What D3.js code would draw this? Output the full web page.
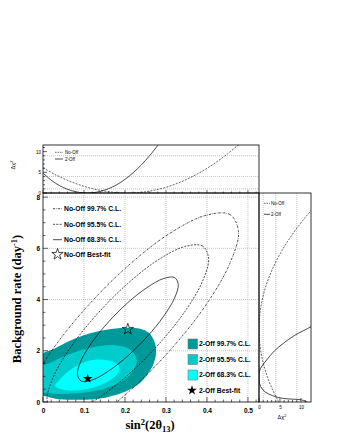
<!DOCTYPE html>
<html><head><meta charset="utf-8">
<script src="https://cdn.jsdelivr.net/npm/d3@7"></script>
<style>body{margin:0;background:#fff}svg{display:block}text{font-family:"Liberation Sans",Arial,sans-serif}text.serif{font-family:"Liberation Serif","Times New Roman",serif}</style>
</head><body><svg id="c" width="340" height="440"></svg>
<script>
// ---------- data ----------
const xTicks=[0,0.1,0.2,0.3,0.4,0.5];
const xTickLabels=["0","0.1","0.2","0.3","0.4","0.5"];
const yTicks=[0,2,4,6,8];
const chiTicks=[0,5,10];
const chiGrid=[1,4,9];
const legendNoOff=["No-Off 99.7% C.L.","No-Off 95.5% C.L.","No-Off 68.3% C.L.","No-Off Best-fit"];
const legend2Off=["2-Off 99.7% C.L.","2-Off 95.5% C.L.","2-Off 68.3% C.L.","2-Off Best-fit"];
const fillColors=["#009999","#00cccc","#00ffff"];
const bestFit2Off=[0.109,0.91];
const bestFitNoOff=[0.207,2.84];
// 2-Off filled confidence regions [sin2, bkg]
const twoOff997=[[-0.02,1.68],[0.03,2.1],[0.074,2.45],[0.115,2.68],[0.155,2.82],[0.2,2.9],[0.237,2.86],[0.258,2.7],[0.272,2.35],[0.276,1.93],[0.27,1.5],[0.256,1.1],[0.235,0.72],[0.2,0.4],[0.16,0.2],[0.115,0.1],[0.07,0.09],[0.03,0.13],[0.005,0.22],[-0.02,0.32]];
const twoOff955=[[-0.02,1.35],[0.013,1.5],[0.04,1.7],[0.074,1.92],[0.105,2.08],[0.139,2.19],[0.175,2.22],[0.205,2.12],[0.222,1.9],[0.229,1.62],[0.222,1.28],[0.205,0.95],[0.18,0.7],[0.15,0.52],[0.115,0.4],[0.074,0.33],[0.035,0.32],[0.008,0.36],[-0.02,0.42]];
const twoOff683=[[0.03,0.62],[0.045,0.95],[0.075,1.35],[0.11,1.6],[0.14,1.66],[0.17,1.57],[0.186,1.38],[0.182,1.1],[0.16,0.82],[0.125,0.58],[0.085,0.46],[0.05,0.48]];
// No-Off contour lines [sin2, bkg]
const noOff683=[[0.330,4.59],[0.321,4.86],[0.294,4.82],[0.254,4.47],[0.207,3.88],[0.160,3.13],[0.120,2.34],[0.093,1.62],[0.084,1.09],[0.093,0.82],[0.120,0.86],[0.160,1.21],[0.207,1.80],[0.254,2.55],[0.294,3.34],[0.321,4.06]];
const noOff955=[[0.404,5.61],[0.389,6.09],[0.346,6.07],[0.282,5.56],[0.207,4.63],[0.132,3.43],[0.068,2.15],[0.025,0.97],[0.010,0.07],[0.025,-0.41],[0.068,-0.39],[0.132,0.12],[0.207,1.05],[0.282,2.25],[0.346,3.53],[0.389,4.71]];
const noOff997=[[0.477,6.66],[0.456,7.32],[0.398,7.29],[0.310,6.59],[0.207,5.31],[0.104,3.66],[0.016,1.88],[-0.042,0.26],[-0.063,-0.98],[-0.042,-1.64],[0.016,-1.61],[0.104,-0.91],[0.207,0.37],[0.310,2.02],[0.398,3.80],[0.456,5.42]];
// Top panel: delta chi2 vs sin2
const topS2Off=[0,0.02,0.04,0.06,0.08,0.1,0.12,0.14,0.16,0.18,0.2,0.22,0.24,0.26,0.28,0.29];
const topD2Off=[4.8,3.1,1.8,0.9,0.3,0.03,0.05,0.4,1.05,2.0,3.3,4.9,6.8,9.0,11.5,12.8];
const topSNoOff=[0,0.03,0.06,0.09,0.12,0.15,0.18,0.207,0.24,0.27,0.3,0.33,0.36,0.39,0.42,0.45,0.48];
const topDNoOff=[6.1,4.45,3.07,1.94,1.07,0.46,0.1,0,0.17,0.64,1.38,2.42,3.75,5.36,7.26,9.45,11.9];
// Right panel: delta chi2 vs background
const rightB2Off=[0,0.08,0.14,0.25,0.4,0.6,0.86,1.18,1.4,1.64,2.0,2.29,2.6,2.94,3.1];
const rightD2Off=[11.5,10.2,5.8,3.2,1.4,0.4,0,0.07,0.7,1.83,3.7,5.8,8.5,12.4,14];
const rightBNoOff=[0,0.5,1,1.5,2,2.5,2.84,3.2,3.7,4.2,4.7,5.2,5.7,6.2,6.7,7.2,7.6];
const rightDNoOff=[4.7,3.18,1.96,1.04,0.41,0.07,0,0.075,0.43,1.07,2.0,3.23,4.74,6.55,8.64,11.0,13.1];

// ---------- layout ----------
const svg=d3.select("#c");
const L=43,R=259,T=193,B=402,T2=145,R3=311;
const x=d3.scaleLinear().domain([0,0.527]).range([L,R]);
const y=d3.scaleLinear().domain([0,8.16]).range([B,T]);
const y2=d3.scaleLinear().domain([0,11.6]).range([T,T2]);
const x3=d3.scaleLinear().domain([0,12.4]).range([R,R3]);

const defs=svg.append("defs");
function clip(id,x0,y0,w,h){defs.append("clipPath").attr("id",id).append("rect").attr("x",x0).attr("y",y0).attr("width",w).attr("height",h);}
clip("cm",L,T,R-L,B-T);clip("ct",L,T2,R-L,T-T2);clip("cr",R,T,R3-R,B-T);

const gridStyle=s=>s.attr("stroke","#aaa").attr("stroke-width",0.7).attr("stroke-dasharray","1,1").attr("fill","none");
svg.append("g").selectAll("line").data(xTicks.slice(1)).join("line")
  .attr("x1",d=>x(d)).attr("x2",d=>x(d)).attr("y1",T).attr("y2",B).call(gridStyle);
svg.append("g").selectAll("line").data(yTicks.slice(1)).join("line")
  .attr("x1",L).attr("x2",R).attr("y1",d=>y(d)).attr("y2",d=>y(d)).call(gridStyle);
svg.append("g").selectAll("line").data(chiGrid).join("line")
  .attr("x1",L).attr("x2",R).attr("y1",d=>y2(d)).attr("y2",d=>y2(d)).call(gridStyle);
svg.append("g").selectAll("line").data(chiGrid).join("line")
  .attr("x1",d=>x3(d)).attr("x2",d=>x3(d)).attr("y1",T).attr("y2",B).call(gridStyle);

// fills
const area=d3.line().x(d=>x(d[0])).y(d=>y(d[1])).curve(d3.curveCatmullRomClosed.alpha(0.5));
const gm=svg.append("g").attr("clip-path","url(#cm)");
[twoOff997,twoOff955,twoOff683].forEach((p,i)=>gm.append("path").attr("d",area(p)).attr("fill",fillColors[i]).attr("stroke","none"));
const dashes=["2.2,1,0.6,1","2,1.3",null];
[noOff997,noOff955,noOff683].forEach((p,i)=>{
  const pa=gm.append("path").attr("d",area(p)).attr("fill","none").attr("stroke","#000").attr("stroke-width",0.7);
  if(dashes[i])pa.attr("stroke-dasharray",dashes[i]);
});
const star=d3.symbol().type(d3.symbolStar);
gm.append("path").attr("d",star.size(30)()).attr("transform",`translate(${x(bestFit2Off[0])},${y(bestFit2Off[1])})`).attr("fill","#000");
gm.append("path").attr("d",star.size(40)()).attr("transform",`translate(${x(bestFitNoOff[0])},${y(bestFitNoOff[1])})`).attr("fill","none").attr("stroke","#000").attr("stroke-width",0.7);

// top panel curves
const gt=svg.append("g").attr("clip-path","url(#ct)");
const lt=d3.line().x(d=>x(d[0])).y(d=>y2(d[1])).curve(d3.curveCatmullRom);
gt.append("path").attr("d",lt(topSNoOff.map((s,i)=>[s,topDNoOff[i]]))).attr("fill","none").attr("stroke","#000").attr("stroke-width",0.6).attr("stroke-dasharray","2,1.3");
gt.append("path").attr("d",lt(topS2Off.map((s,i)=>[s,topD2Off[i]]))).attr("fill","none").attr("stroke","#000").attr("stroke-width",0.7);
// right panel curves
const gr=svg.append("g").attr("clip-path","url(#cr)");
const lr=d3.line().x(d=>x3(d[1])).y(d=>y(d[0])).curve(d3.curveCatmullRom);
gr.append("path").attr("d",lr(rightBNoOff.map((b,i)=>[b,rightDNoOff[i]]))).attr("fill","none").attr("stroke","#000").attr("stroke-width",0.6).attr("stroke-dasharray","2,1.3");
gr.append("path").attr("d",lr(rightB2Off.map((b,i)=>[b,rightD2Off[i]]))).attr("fill","none").attr("stroke","#000").attr("stroke-width",0.7);

// frames
const frame=(x0,y0,x1,y1)=>svg.append("rect").attr("x",x0).attr("y",y0).attr("width",x1-x0).attr("height",y1-y0).attr("fill","none").attr("stroke","#000").attr("stroke-width",0.8);
frame(L,T2,R,T);frame(L,T,R,B);frame(R,T,R3,B);

// axes
const xa=svg.append("g").attr("transform",`translate(0,${B})`).call(d3.axisBottom(x).tickValues(xTicks).tickFormat((d,i)=>xTickLabels[i]).tickSize(0).tickPadding(6));
const ya=svg.append("g").attr("transform",`translate(${L},0)`).call(d3.axisLeft(y).tickValues(yTicks).tickFormat(d3.format("d")).tickSize(0).tickPadding(3));
const y2a=svg.append("g").attr("transform",`translate(${L},0)`).call(d3.axisLeft(y2).tickValues(chiTicks).tickFormat(d3.format("d")).tickSize(0).tickPadding(2));
const x3a=svg.append("g").attr("transform",`translate(0,${B})`).call(d3.axisBottom(x3).tickValues(chiTicks).tickFormat(d3.format("d")).tickSize(0).tickPadding(4));
[xa,ya,y2a,x3a].forEach(a=>{a.select(".domain").remove();a.attr("font-family",null);});
xa.selectAll("text").attr("font-size",6.5).attr("font-weight","bold").attr("fill","#000");
ya.selectAll("text").attr("font-size",6.5).attr("font-weight","bold").attr("fill","#000");
y2a.selectAll("text").attr("font-size",4.5).attr("fill","#000");
x3a.selectAll("text").attr("font-size",4.5).attr("fill","#000");
const tk=svg.append("g").attr("stroke","#000").attr("stroke-width",0.6);
d3.range(0,0.521,0.02).forEach(v=>{const big=Math.abs(v*10-Math.round(v*10))<1e-6;
  tk.append("line").attr("x1",x(v)).attr("x2",x(v)).attr("y1",B).attr("y2",B-(big?5:2.5));
  tk.append("line").attr("x1",x(v)).attr("x2",x(v)).attr("y1",T).attr("y2",T-(big?3:1.5));});
d3.range(0,8.01,0.5).forEach(v=>{const big=Math.abs(v/2-Math.round(v/2))<1e-6;
  tk.append("line").attr("x1",L).attr("x2",L+(big?5:2.5)).attr("y1",y(v)).attr("y2",y(v));});
d3.range(0,11.01,1).forEach(v=>{const big=v%5===0;
  tk.append("line").attr("x1",L).attr("x2",L+(big?4:2)).attr("y1",y2(v)).attr("y2",y2(v));
  tk.append("line").attr("x1",x3(v)).attr("x2",x3(v)).attr("y1",B).attr("y2",B-(big?4:2));});

// axis titles
const xt=svg.append("text").attr("class","serif").attr("x",150).attr("y",429).attr("text-anchor","middle").attr("font-weight","bold").attr("font-size",12.5);
xt.append("tspan").text("sin");xt.append("tspan").attr("dy",-4.5).attr("font-size",8.5).text("2");
xt.append("tspan").attr("dy",4.5).text("(2θ");xt.append("tspan").attr("dy",3).attr("font-size",8.5).text("13");
xt.append("tspan").attr("dy",-3).text(")");
const yt=svg.append("text").attr("class","serif").attr("transform","translate(21,299) rotate(-90)").attr("text-anchor","middle").attr("font-weight","bold").attr("font-size",12.5);
yt.append("tspan").text("Background rate (day");yt.append("tspan").attr("dy",-4.5).attr("font-size",8.5).text("-1");yt.append("tspan").attr("dy",4.5).text(")");
const ct=svg.append("text").attr("transform","translate(15,165) rotate(-90)").attr("text-anchor","middle").attr("font-size",5.5);
ct.append("tspan").text("Δχ");ct.append("tspan").attr("dy",-2).attr("font-size",4).text("2");
const cr=svg.append("text").attr("x",282).attr("y",419).attr("text-anchor","middle").attr("font-size",5.5);
cr.append("tspan").text("Δχ");cr.append("tspan").attr("dy",-2).attr("font-size",4).text("2");

// main legend No-Off
const lg=svg.append("g");
const lgY=[208.7,224.3,239.7,254.3];
[0,1,2].forEach(i=>{const l=lg.append("line").attr("x1",53).attr("x2",62).attr("y1",lgY[i]).attr("y2",lgY[i]).attr("stroke","#000").attr("stroke-width",0.7);if(dashes[i])l.attr("stroke-dasharray",dashes[i]);});
lg.append("path").attr("d",star.size(40)()).attr("transform",`translate(57.5,${lgY[3]})`).attr("fill","none").attr("stroke","#000").attr("stroke-width",0.7);
lg.selectAll("text").data(legendNoOff).join("text").attr("x",64).attr("y",(d,i)=>lgY[i]).attr("dy","0.35em").attr("font-size",6.8).attr("font-weight","bold").text(d=>d);
// main legend 2-Off
const lg2=svg.append("g");
const lg2Y=[344,359.5,375,390.3];
[0,1,2].forEach(i=>lg2.append("rect").attr("x",188).attr("y",lg2Y[i]-5).attr("width",9.5).attr("height",10).attr("fill",fillColors[i]).attr("stroke","#777").attr("stroke-width",0.6));
lg2.append("path").attr("d",star.size(30)()).attr("transform",`translate(192,${lg2Y[3]})`).attr("fill","#000");
lg2.selectAll("text").data(legend2Off).join("text").attr("x",199).attr("y",(d,i)=>lg2Y[i]).attr("dy","0.35em").attr("font-size",6.8).attr("font-weight","bold").text(d=>d);
// top panel legend
const tl=svg.append("g");
const tlN=["No-Off","2-Off"],tlY=[152.3,159];
tl.append("line").attr("x1",55).attr("x2",63).attr("y1",tlY[0]).attr("y2",tlY[0]).attr("stroke","#000").attr("stroke-width",0.6).attr("stroke-dasharray","1.5,1");
tl.append("line").attr("x1",55).attr("x2",63).attr("y1",tlY[1]).attr("y2",tlY[1]).attr("stroke","#000").attr("stroke-width",0.7);
tl.selectAll("text").data(tlN).join("text").attr("x",65).attr("y",(d,i)=>tlY[i]).attr("dy","0.35em").attr("font-size",4.5).text(d=>d);
// right panel legend
const rl=svg.append("g");
const rlY=[203.3,214.3];
rl.append("line").attr("x1",264).attr("x2",270).attr("y1",rlY[0]).attr("y2",rlY[0]).attr("stroke","#000").attr("stroke-width",0.6).attr("stroke-dasharray","1.5,1");
rl.append("line").attr("x1",264).attr("x2",270).attr("y1",rlY[1]).attr("y2",rlY[1]).attr("stroke","#000").attr("stroke-width",0.7);
rl.selectAll("text").data(tlN).join("text").attr("x",271).attr("y",(d,i)=>rlY[i]).attr("dy","0.35em").attr("font-size",4.5).text(d=>d);
</script></body></html>
